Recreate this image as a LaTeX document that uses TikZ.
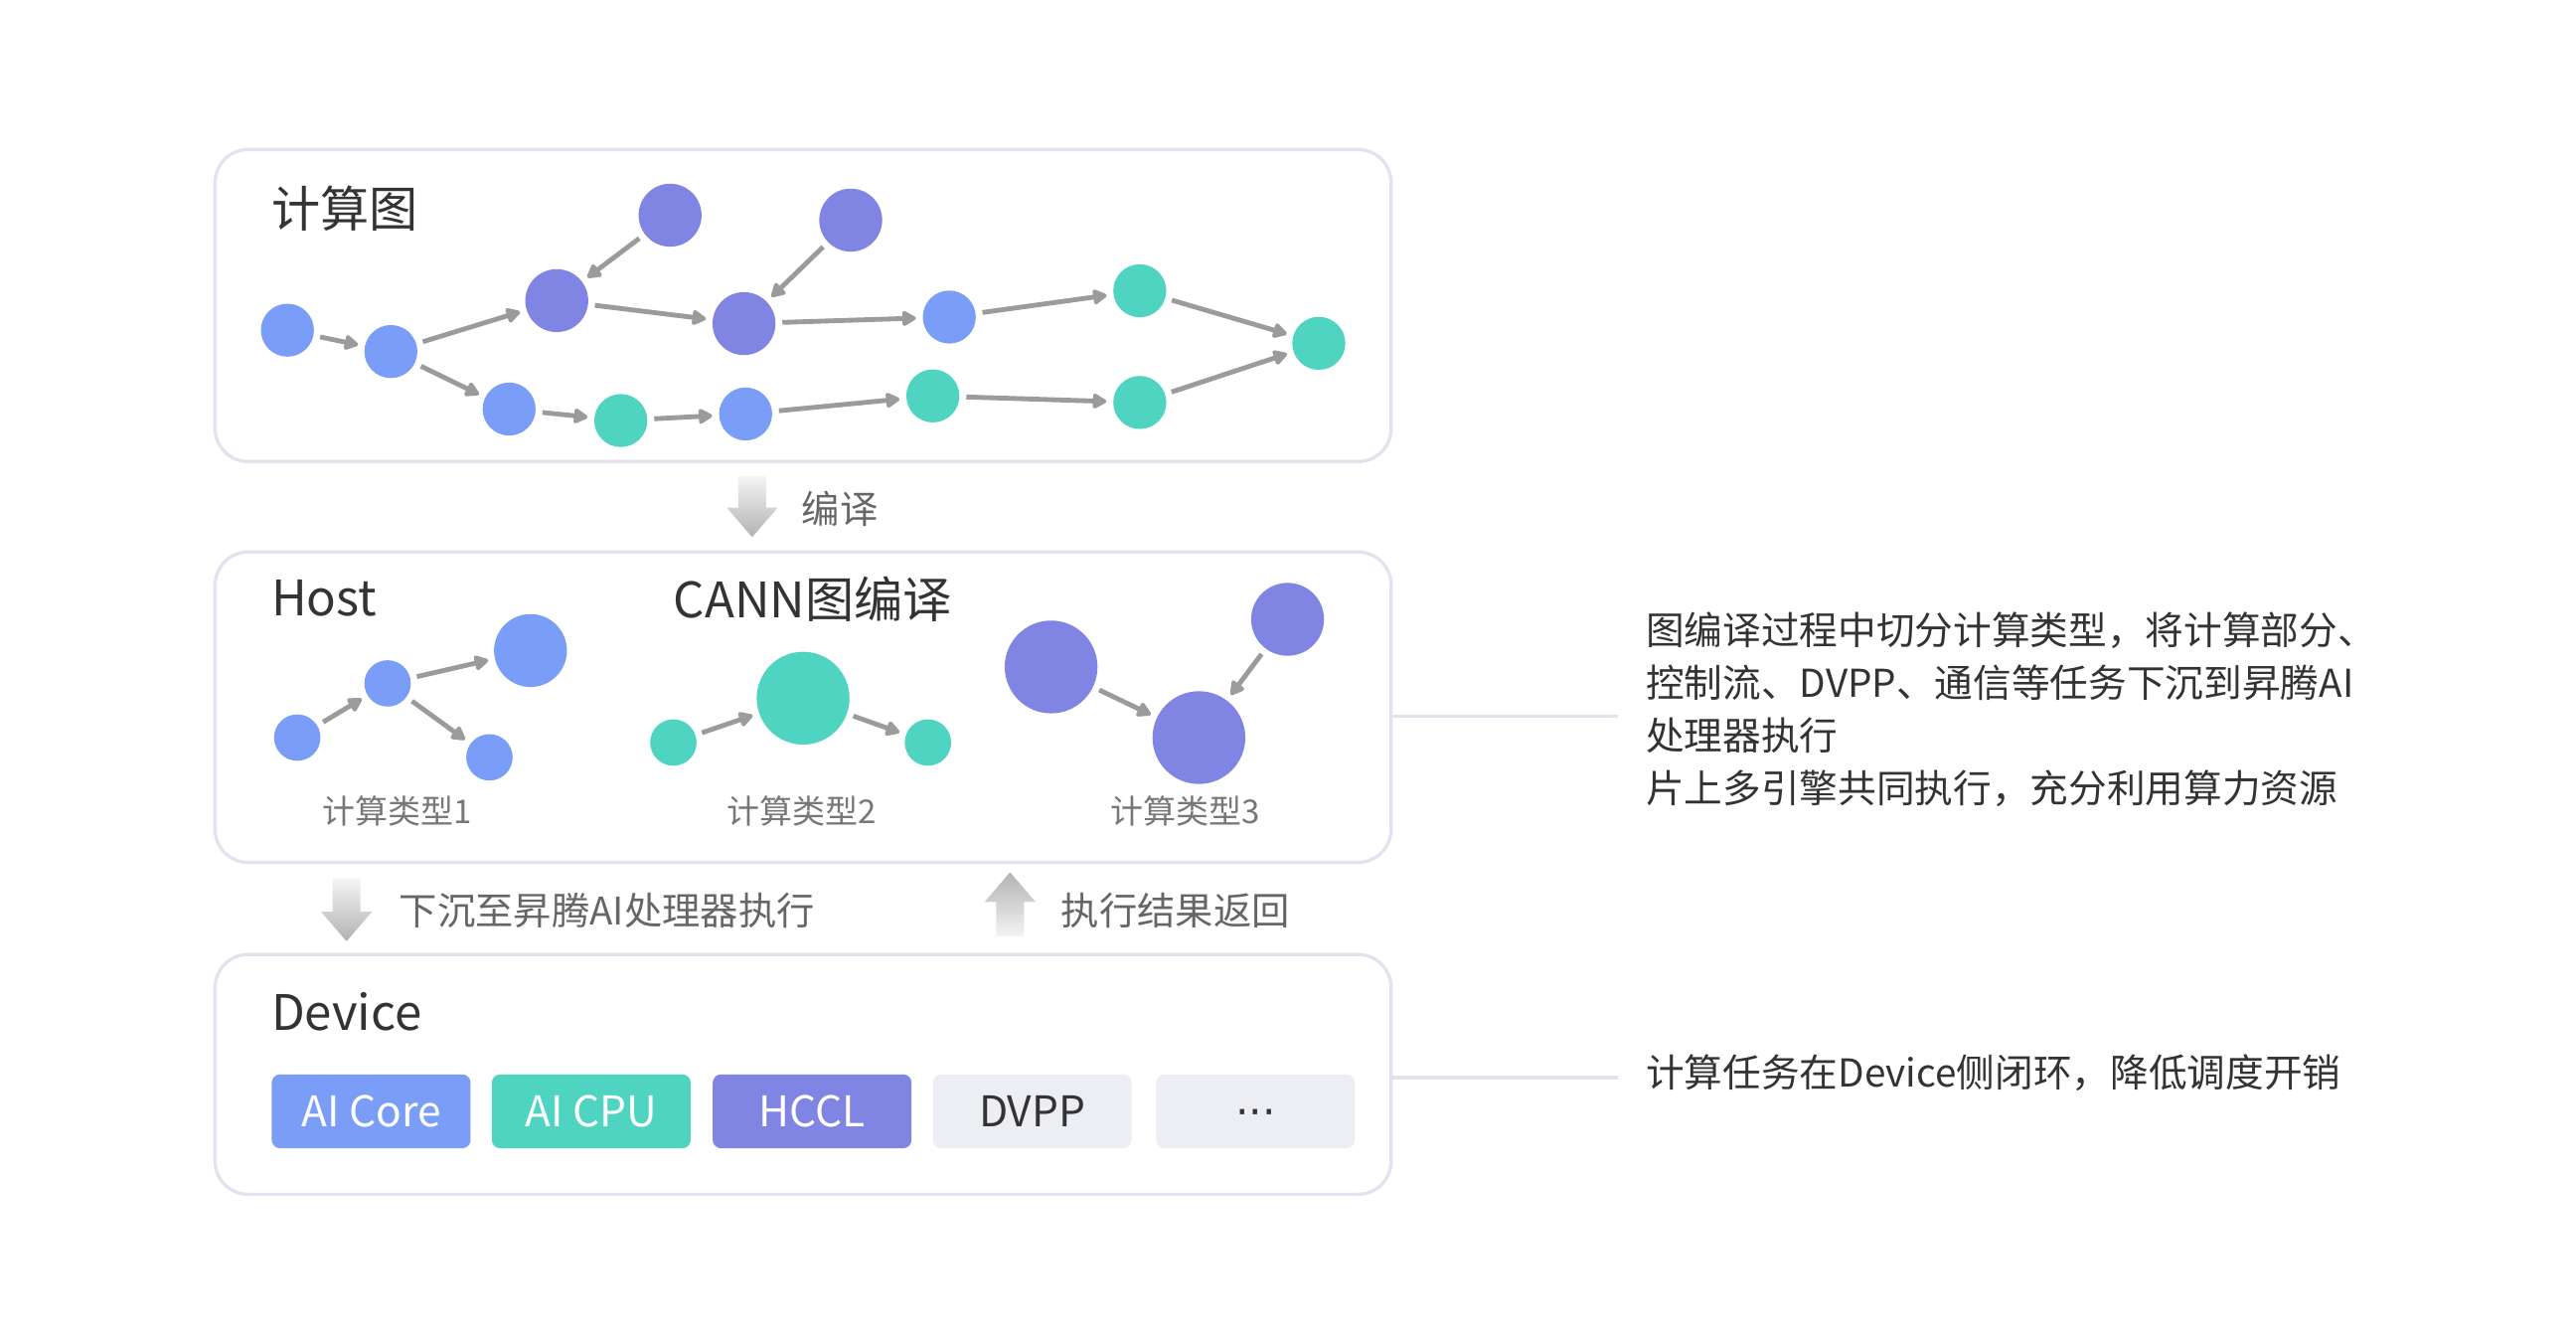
\documentclass[tikz,border=0pt]{standalone}
\usepackage{fontspec}
\setmainfont{Noto Sans CJK SC}
\newfontfamily\dotfont{DejaVu Sans}
\usetikzlibrary{arrows.meta}
\definecolor{nblue}{HTML}{7A9DF7}
\definecolor{npurple}{HTML}{8085E3}
\definecolor{nteal}{HTML}{4ED4C0}
\definecolor{boxline}{HTML}{E1E4EE}
\definecolor{agray}{HTML}{9B9B9B}
\definecolor{txtdark}{HTML}{333333}
\definecolor{txtgray}{HTML}{666666}
\definecolor{txtlabel}{HTML}{777777}
\definecolor{chipgray}{HTML}{EDEEF3}
\definecolor{shadelight}{HTML}{F4F4F4}
\definecolor{shadedark}{HTML}{B2B2B2}
\begin{document}
\begin{tikzpicture}[x=0.9915pt,y=-0.9915pt,
  panel/.style={draw=boxline, line width=2pt, rounded corners=20pt, fill=white, minimum width=710pt, inner sep=0pt},
  dot/.style={circle, inner sep=0pt, minimum size=#1},
  bl/.style={fill=nblue},
  pu/.style={fill=npurple},
  te/.style={fill=nteal},
  edge/.style={draw=agray, line width=2.9pt, -{Triangle[length=9.5pt,width=10pt,round]}, shorten <=4pt, shorten >=4pt},
  title/.style={anchor=west, inner sep=0pt, text=txtdark, font=\fontsize{29.5}{34}\selectfont},
  typelabel/.style={inner sep=0pt, text=txtlabel, font=\fontsize{19.8}{23}\selectfont},
  flowlabel/.style={anchor=west, inner sep=0pt, text=txtgray, font=\fontsize{23}{27}\selectfont},
  note/.style={anchor=west, inner sep=0pt, text=txtdark, align=left, font=\fontsize{23.2}{31.7}\selectfont},
  conn/.style={draw=boxline, line width=2pt},
  chip/.style={rounded corners=5pt, minimum width=120pt, minimum height=44.6pt, inner sep=0pt, font=\fontsize{25.5}{29}\selectfont},
]
\useasboundingbox (0,0) rectangle (1568.5,817);

% panels
\node[panel, minimum height=188.4pt] (p1) at (489,186) {};
\node[panel, minimum height=187.4pt] (p2) at (489,430.5) {};
\node[panel, minimum height=144.8pt] (p3) at (489,654) {};

% ---- computation graph ----
\node[title] (t1) at (165,127) {计算图};
\node[dot=32pt, bl] (a1) at (175,201) {};
\node[dot=32pt, bl] (a2) at (238,214) {};
\node[dot=38pt, pu] (a3) at (339,183) {};
\node[dot=38pt, pu] (a4) at (408,131) {};
\node[dot=38pt, pu] (a5) at (453,197) {};
\node[dot=38pt, pu] (a6) at (518,134) {};
\node[dot=32pt, bl] (a7) at (578,193) {};
\node[dot=32pt, te] (a8) at (694,177) {};
\node[dot=32pt, te] (a9) at (803,209) {};
\node[dot=32pt, bl] (b1) at (310,249) {};
\node[dot=32pt, te] (b2) at (378,256) {};
\node[dot=32pt, bl] (b3) at (454,252) {};
\node[dot=32pt, te] (b4) at (568,241) {};
\node[dot=32pt, te] (b5) at (694,245) {};
\draw[edge] (a1) -- (a2);
\draw[edge] (a2) -- (a3);
\draw[edge] (a2) -- (b1);
\draw[edge] (a4) -- (a3);
\draw[edge] (a3) -- (a5);
\draw[edge] (a6) -- (a5);
\draw[edge] (a5) -- (a7);
\draw[edge] (a7) -- (a8);
\draw[edge] (a8) -- (a9);
\draw[edge] (b1) -- (b2);
\draw[edge] (b2) -- (b3);
\draw[edge] (b3) -- (b4);
\draw[edge] (b4) -- (b5);
\draw[edge] (b5) -- (a9);

% compile arrow
\shade[top color=shadelight, bottom color=shadedark] (449.5,290) -- (466.5,290) -- (466.5,309) -- (473.5,309) -- (458,327) -- (442.5,309) -- (449.5,309) -- cycle;
\node[flowlabel] (l1) at (488,310) {编译};

% ---- host ----
\node[title] (t2) at (165,364) {Host};
\node[title] (t3) at (410,365) {CANN图编译};
\node[dot=28pt, bl] (c1) at (181,449) {};
\node[dot=28pt, bl] (c2) at (236,416) {};
\node[dot=44pt, bl] (c3) at (323,396) {};
\node[dot=28pt, bl] (c4) at (298,461) {};
\draw[edge] (c1) -- (c2);
\draw[edge] (c2) -- (c3);
\draw[edge] (c2) -- (c4);
\node[dot=28pt, te] (d1) at (410,452) {};
\node[dot=56pt, te] (d2) at (489,425) {};
\node[dot=28pt, te] (d3) at (565,452) {};
\draw[edge] (d1) -- (d2);
\draw[edge] (d2) -- (d3);
\node[dot=56pt, pu] (e1) at (640,406) {};
\node[dot=44pt, pu] (e2) at (784,377) {};
\node[dot=56pt, pu] (e3) at (730,449) {};
\draw[edge] (e1) -- (e3);
\draw[edge] (e2) -- (e3);
\node[typelabel] (k1) at (242,494) {计算类型1};
\node[typelabel] (k2) at (488,494) {计算类型2};
\node[typelabel] (k3) at (722,494) {计算类型3};

% down / up arrows between host and device
\shade[top color=shadelight, bottom color=shadedark] (202.5,535) -- (219.5,535) -- (219.5,555) -- (226.5,555) -- (211,573) -- (195.5,555) -- (202.5,555) -- cycle;
\node[flowlabel] (l2) at (243,554) {下沉至昇腾AI处理器执行};
\shade[top color=shadedark, bottom color=shadelight] (615,531) -- (630.5,549) -- (623.5,549) -- (623.5,570) -- (606.5,570) -- (606.5,549) -- (599.5,549) -- cycle;
\node[flowlabel] (l3) at (646,554) {执行结果返回};

% ---- device ----
\node[title] (t4) at (165,616) {Device};
\node[chip, fill=nblue, text=white] (h1) at (226,676.5) {AI Core};
\node[chip, fill=nteal, text=white] (h2) at (360,676.5) {AI CPU};
\node[chip, fill=npurple, text=white] (h3) at (494.5,676.5) {HCCL};
\node[chip, fill=chipgray, text=txtdark] (h4) at (628.5,676.5) {DVPP};
\node[chip, fill=chipgray, text=txtdark] (h5) at (764.5,676.5) {\dotfont\vphantom{A}···};

% ---- notes ----
\coordinate (n1) at (985,436);
\coordinate (n2) at (985,656);
\draw[conn] (p2.east |- n1) -- (n1);
\draw[conn] (p3.east |- n2) -- (n2);
\node[note] (r1) at (1002,432) {图编译过程中切分计算类型，将计算部分、\\控制流、DVPP、通信等任务下沉到昇腾AI\\处理器执行\\片上多引擎共同执行，充分利用算力资源};
\node[note] (r2) at (1002,653) {计算任务在Device侧闭环，降低调度开销};
\end{tikzpicture}
\end{document}
